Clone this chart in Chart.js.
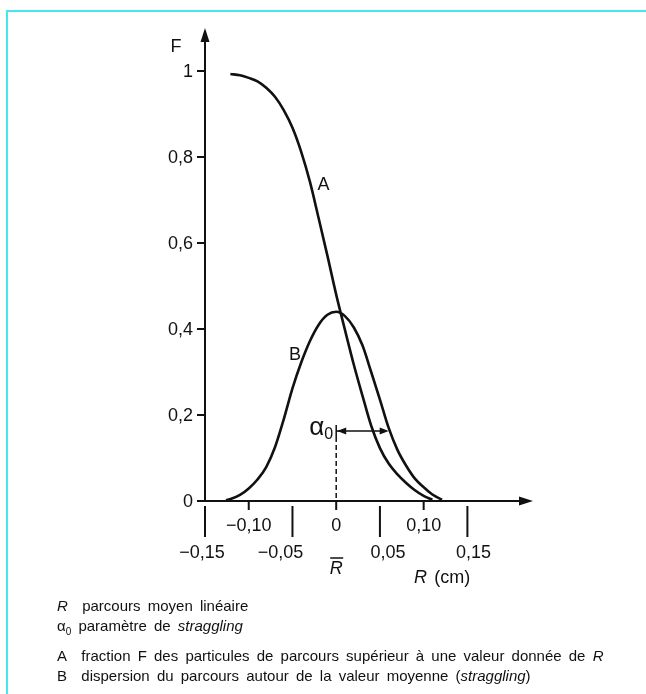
<!DOCTYPE html>
<html>
<head>
<meta charset="utf-8">
<script src="https://cdn.jsdelivr.net/npm/chart.js@4/dist/chart.umd.min.js"></script>
<style>
  html, body { margin: 0; padding: 0; background: #fff; }
  #wrap { position: relative; width: 646px; height: 694px; overflow: hidden; }
  #frame { position: absolute; left: 6px; top: 10px; right: -4px; bottom: -4px;
           border-left: 2px solid #45e8ef; border-top: 2px solid #45e8ef; }
  #box { position: absolute; left: 0; top: 0; width: 646px; height: 694px; }
  #legend { position: absolute; left: 57px; top: 596px;
            font-family: "Liberation Sans", Arial, sans-serif; font-size: 15px;
            color: #111; word-spacing: 3px; line-height: 20px; }
  #legend div { white-space: nowrap; }
  #legend .gap { margin-top: 4px; }
  #legend i { font-style: italic; }
</style>
</head>
<body>
<div id="wrap">
  <div id="frame"></div>
  <div id="box"><canvas id="chart"></canvas></div>
  <div id="legend">
    <div><i>R</i>&nbsp; parcours moyen linéaire</div>
    <div>α<sub style="font-size:10px">0</sub> paramètre de <i>straggling</i></div>
    <div class="gap">A&nbsp; fraction F des particules de parcours supérieur à une valeur donnée de <i>R</i></div>
    <div>B&nbsp; dispersion du parcours autour de la valeur moyenne (<i>straggling</i>)</div>
  </div>
</div>
<script>
// courbe A : fraction F des particules de parcours > R
const rA = [-0.121, -0.110, -0.100, -0.090, -0.080, -0.070, -0.060, -0.050, -0.040, -0.030, -0.020, -0.010, 0.000, 0.010, 0.020, 0.030, 0.040, 0.050, 0.060, 0.070, 0.080, 0.090, 0.100, 0.110];
const fA = [0.993, 0.990, 0.984, 0.976, 0.961, 0.940, 0.909, 0.868, 0.812, 0.742, 0.657, 0.570, 0.480, 0.398, 0.318, 0.245, 0.175, 0.123, 0.087, 0.062, 0.042, 0.025, 0.012, 0.003];

// courbe B : dispersion autour de la valeur moyenne
const rB = [-0.126, -0.120, -0.110, -0.100, -0.090, -0.080, -0.070, -0.060, -0.050, -0.040, -0.030, -0.020, -0.010, 0.000, 0.010, 0.020, 0.030, 0.040, 0.050, 0.060, 0.070, 0.080, 0.090, 0.100, 0.110, 0.121];
const fB = [0.002, 0.005, 0.014, 0.029, 0.050, 0.079, 0.125, 0.190, 0.262, 0.322, 0.372, 0.410, 0.433, 0.440, 0.430, 0.404, 0.362, 0.300, 0.236, 0.170, 0.119, 0.082, 0.052, 0.032, 0.015, 0.003];

const yTicks = [0, 0.2, 0.4, 0.6, 0.8, 1];
const yLabels = ['0', '0,2', '0,4', '0,6', '0,8', '1'];
const xTicksUp = [-0.10, 0, 0.10];
const xLabelsUp = ['\u22120,10', '0', '0,10'];
const xTicksDown = [-0.15, -0.05, 0.05, 0.15];
const xLabelsDown = ['\u22120,15', '\u22120,05', '0,05', '0,15'];
const alpha0 = 0.06;      // paramètre de straggling
const alphaLevel = 0.163; // hauteur de la flèche

const FONT = '"Liberation Sans", Arial, sans-serif';
const downShift = [-3, -12, 8, 6];

function arrowHead(ctx, x, y, dir, len, half) {
  ctx.beginPath();
  if (dir === 'up') { ctx.moveTo(x, y); ctx.lineTo(x - half, y + len); ctx.lineTo(x + half, y + len); }
  if (dir === 'right') { ctx.moveTo(x, y); ctx.lineTo(x - len, y - half); ctx.lineTo(x - len, y + half); }
  if (dir === 'left') { ctx.moveTo(x, y); ctx.lineTo(x + len, y - half); ctx.lineTo(x + len, y + half); }
  ctx.closePath();
  ctx.fill();
}

const axesPlugin = {
  id: 'axesPlugin',
  afterDatasetsDraw(chart) {
    const ctx = chart.ctx;
    const xs = chart.scales.x, ys = chart.scales.y, area = chart.chartArea;
    const x0 = xs.getPixelForValue(-0.15);
    const y0 = ys.getPixelForValue(0);
    ctx.save();
    ctx.strokeStyle = '#111';
    ctx.fillStyle = '#111';
    ctx.lineWidth = 2;

    // axes
    ctx.beginPath();
    ctx.moveTo(x0, y0); ctx.lineTo(x0, area.top + 10);
    ctx.moveTo(x0, y0); ctx.lineTo(area.right - 10, y0);
    ctx.stroke();
    arrowHead(ctx, x0, area.top, 'up', 14, 4.5);
    arrowHead(ctx, area.right, y0, 'right', 14, 4.5);

    // graduations F
    ctx.font = '18px ' + FONT;
    ctx.textAlign = 'right';
    ctx.textBaseline = 'middle';
    yTicks.forEach((v, i) => {
      const y = ys.getPixelForValue(v);
      ctx.beginPath(); ctx.moveTo(x0 - 8, y); ctx.lineTo(x0, y); ctx.stroke();
      ctx.fillText(yLabels[i], x0 - 12, y + 1);
    });
    ctx.textAlign = 'center';
    ctx.fillText('F', x0 - 29, area.top + 19);

    // graduations R
    xTicksUp.forEach((v, i) => {
      const x = xs.getPixelForValue(v);
      ctx.beginPath(); ctx.moveTo(x, y0); ctx.lineTo(x, y0 + 9); ctx.stroke();
      ctx.fillText(xLabelsUp[i], x, y0 + 25);
    });
    xTicksDown.forEach((v, i) => {
      const x = xs.getPixelForValue(v);
      ctx.beginPath(); ctx.moveTo(x, y0 + 5); ctx.lineTo(x, y0 + 36); ctx.stroke();
      ctx.fillText(xLabelsDown[i], x + downShift[i], y0 + 52);
    });

    // R barre
    const xm = xs.getPixelForValue(0);
    ctx.font = 'italic 18px ' + FONT;
    ctx.fillText('R', xm, y0 + 68);
    ctx.lineWidth = 1.5;
    ctx.beginPath(); ctx.moveTo(xm - 6, y0 + 57); ctx.lineTo(xm + 7, y0 + 57); ctx.stroke();

    // titre d'axe
    ctx.textAlign = 'left';
    ctx.fillText('R', xs.getPixelForValue(0.089), y0 + 77);
    ctx.font = '18px ' + FONT;
    ctx.fillText('(cm)', xs.getPixelForValue(0.112), y0 + 77);

    // étiquettes des courbes
    ctx.textAlign = 'center';
    ctx.fillText('A', xs.getPixelForValue(-0.0145), ys.getPixelForValue(0.735));
    ctx.fillText('B', xs.getPixelForValue(-0.047), ys.getPixelForValue(0.340));

    // alpha0
    const ya = ys.getPixelForValue(alphaLevel);
    const xa = xs.getPixelForValue(alpha0);
    ctx.font = '26px ' + FONT;
    ctx.textAlign = 'right';
    ctx.fillText('\u03b1', xm - 12, ya - 3);
    ctx.font = '16px ' + FONT;
    ctx.textAlign = 'left';
    ctx.fillText('0', xm - 12, ya + 4);

    ctx.lineWidth = 1.5;
    ctx.beginPath();
    ctx.moveTo(xm, ya - 6); ctx.lineTo(xm, ya + 6);
    ctx.moveTo(xm, ya); ctx.lineTo(xa - 6, ya);
    ctx.stroke();
    arrowHead(ctx, xm + 1, ya, 'left', 9, 3.5);
    arrowHead(ctx, xa, ya, 'right', 9, 3.5);

    ctx.setLineDash([5, 3]);
    ctx.beginPath(); ctx.moveTo(xm, ya + 6); ctx.lineTo(xm, y0); ctx.stroke();
    ctx.restore();
  }
};

new Chart(document.getElementById('chart'), {
  type: 'scatter',
  data: {
    datasets: [
      {
        label: 'A',
        data: rA.map((r, i) => ({x: r, y: fA[i]})),
        showLine: true,
        borderColor: '#111',
        borderWidth: 2.6,
        pointRadius: 0,
        cubicInterpolationMode: 'monotone'
      },
      {
        label: 'B',
        data: rB.map((r, i) => ({x: r, y: fB[i]})),
        showLine: true,
        borderColor: '#111',
        borderWidth: 2.6,
        pointRadius: 0,
        cubicInterpolationMode: 'monotone'
      }
    ]
  },
  options: {
    responsive: true,
    maintainAspectRatio: false,
    animation: false,
    layout: { padding: { left: 205, right: 113, top: 28, bottom: 193 } },
    plugins: { legend: { display: false }, tooltip: { enabled: false } },
    scales: {
      x: { type: 'linear', min: -0.15, max: 0.225, display: false },
      y: { type: 'linear', min: 0, max: 1.1, display: false }
    }
  },
  plugins: [axesPlugin]
});
</script>
</body>
</html>
